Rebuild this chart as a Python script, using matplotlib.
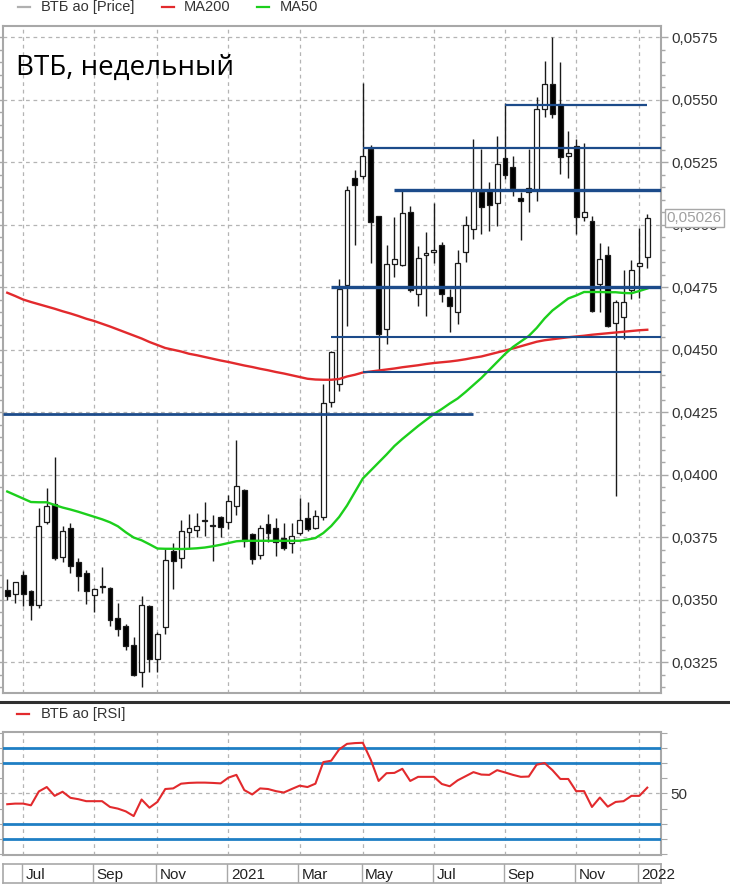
import matplotlib
matplotlib.use("Agg")
import matplotlib.pyplot as plt
import pandas as pd
from matplotlib.lines import Line2D
from matplotlib.ticker import MultipleLocator, FuncFormatter, FixedLocator
from matplotlib.transforms import blended_transform_factory

plt.rcParams['font.family'] = ['Liberation Sans', 'DejaVu Sans']

# ---------------- data ----------------
weeks = pd.date_range('2020-06-15', periods=82, freq='W-MON')

open_ = [0.03539, 0.03523, 0.03599, 0.03535, 0.03480, 0.03810, 0.03883, 0.03670, 0.03786, 0.03650,
         0.03607, 0.03520, 0.03555, 0.03546, 0.03426, 0.03394, 0.03319, 0.03212, 0.03476, 0.03263,
         0.03390, 0.03696, 0.03666, 0.03772, 0.03780, 0.03815, 0.03798, 0.03830, 0.03810, 0.03874,
         0.03940, 0.03762, 0.03680, 0.03803, 0.03786, 0.03747, 0.03727, 0.03766, 0.03827, 0.03787,
         0.03832, 0.04290, 0.04363, 0.04759, 0.05186, 0.05194, 0.05303, 0.05036, 0.04583, 0.04843,
         0.04840, 0.05050, 0.04723, 0.04880, 0.04890, 0.04919, 0.04710, 0.04652, 0.04892, 0.04983,
         0.05132, 0.05134, 0.05086, 0.05267, 0.05230, 0.05106, 0.05132, 0.05140, 0.05463, 0.05563,
         0.05483, 0.05276, 0.05316, 0.05030, 0.05016, 0.04763, 0.04880, 0.04607, 0.04630, 0.04740,
         0.04834, 0.04870]
high = [0.03583, 0.03572, 0.03616, 0.03540, 0.03868, 0.03946, 0.04070, 0.03796, 0.03807, 0.03666,
        0.03619, 0.03546, 0.03630, 0.03550, 0.03486, 0.03403, 0.03350, 0.03516, 0.03479, 0.03371,
        0.03703, 0.03727, 0.03819, 0.03843, 0.03846, 0.03892, 0.03839, 0.03834, 0.03920, 0.04140,
        0.03943, 0.03767, 0.03799, 0.03843, 0.03826, 0.03807, 0.03806, 0.03907, 0.03890, 0.03859,
        0.04363, 0.04496, 0.04783, 0.05154, 0.05220, 0.05567, 0.05319, 0.05036, 0.04919, 0.05030,
        0.05143, 0.05076, 0.04916, 0.04972, 0.05087, 0.04932, 0.04743, 0.04900, 0.05036, 0.05343,
        0.05303, 0.05172, 0.05354, 0.05487, 0.05276, 0.05130, 0.05303, 0.05510, 0.05654, 0.05752,
        0.05650, 0.05376, 0.05343, 0.05326, 0.05036, 0.04927, 0.04916, 0.04700, 0.04819, 0.04859,
        0.04986, 0.05043]
low = [0.03500, 0.03487, 0.03476, 0.03420, 0.03467, 0.03803, 0.03660, 0.03652, 0.03607, 0.03536,
       0.03483, 0.03452, 0.03527, 0.03394, 0.03354, 0.03300, 0.03197, 0.03150, 0.03210, 0.03210,
       0.03363, 0.03543, 0.03627, 0.03709, 0.03750, 0.03754, 0.03656, 0.03750, 0.03783, 0.03840,
       0.03710, 0.03643, 0.03663, 0.03732, 0.03674, 0.03699, 0.03687, 0.03759, 0.03776, 0.03783,
       0.03820, 0.04270, 0.04336, 0.04596, 0.04920, 0.05183, 0.04847, 0.04416, 0.04523, 0.04790,
       0.04834, 0.04730, 0.04676, 0.04636, 0.04847, 0.04690, 0.04572, 0.04603, 0.04850, 0.04943,
       0.04963, 0.04974, 0.04994, 0.05183, 0.05116, 0.04939, 0.05050, 0.05096, 0.05430, 0.05426,
       0.05203, 0.05186, 0.04963, 0.05016, 0.04652, 0.04650, 0.04590, 0.03915, 0.04543, 0.04703,
       0.04706, 0.04826]
close = [0.03516, 0.03570, 0.03522, 0.03480, 0.03796, 0.03876, 0.03667, 0.03774, 0.03636, 0.03594,
         0.03534, 0.03543, 0.03553, 0.03420, 0.03383, 0.03316, 0.03199, 0.03479, 0.03263, 0.03362,
         0.03659, 0.03654, 0.03776, 0.03786, 0.03795, 0.03818, 0.03795, 0.03790, 0.03894, 0.03956,
         0.03736, 0.03663, 0.03788, 0.03767, 0.03730, 0.03708, 0.03756, 0.03819, 0.03783, 0.03836,
         0.04287, 0.04490, 0.04743, 0.05139, 0.05159, 0.05274, 0.05010, 0.04563, 0.04843, 0.04863,
         0.05046, 0.04740, 0.04866, 0.04886, 0.04900, 0.04723, 0.04676, 0.04847, 0.04999, 0.05136,
         0.05070, 0.05080, 0.05243, 0.05200, 0.05147, 0.05095, 0.05148, 0.05463, 0.05563, 0.05443,
         0.05272, 0.05287, 0.05030, 0.05052, 0.04656, 0.04863, 0.04594, 0.04692, 0.04690, 0.04820,
         0.04846, 0.05026]
ma200 = [0.04728, 0.04715, 0.04701, 0.04691, 0.04682, 0.04673, 0.04664, 0.04654, 0.04645, 0.04635,
         0.04624, 0.04615, 0.04604, 0.04593, 0.04581, 0.04569, 0.04557, 0.04545, 0.04531, 0.04519,
         0.04507, 0.04500, 0.04493, 0.04484, 0.04478, 0.04471, 0.04464, 0.04457, 0.04451, 0.04444,
         0.04437, 0.04431, 0.04424, 0.04418, 0.04411, 0.04405, 0.04398, 0.04391, 0.04384, 0.04381,
         0.04380, 0.04380, 0.04383, 0.04393, 0.04400, 0.04409, 0.04413, 0.04417, 0.04421, 0.04425,
         0.04430, 0.04434, 0.04438, 0.04443, 0.04447, 0.04450, 0.04453, 0.04457, 0.04462, 0.04468,
         0.04473, 0.04481, 0.04489, 0.04497, 0.04505, 0.04514, 0.04523, 0.04532, 0.04538, 0.04542,
         0.04546, 0.04550, 0.04553, 0.04556, 0.04560, 0.04563, 0.04566, 0.04569, 0.04572, 0.04575,
         0.04578, 0.04580]
ma50 = [0.03933, 0.03919, 0.03905, 0.03891, 0.03890, 0.03890, 0.03879, 0.03869, 0.03861, 0.03852,
        0.03842, 0.03832, 0.03822, 0.03810, 0.03794, 0.03770, 0.03749, 0.03738, 0.03722, 0.03705,
        0.03704, 0.03704, 0.03703, 0.03704, 0.03706, 0.03709, 0.03714, 0.03720, 0.03727, 0.03734,
        0.03736, 0.03736, 0.03736, 0.03736, 0.03736, 0.03736, 0.03736, 0.03736, 0.03741, 0.03747,
        0.03767, 0.03795, 0.03831, 0.03877, 0.03931, 0.03985, 0.04017, 0.04049, 0.04081, 0.04115,
        0.04143, 0.04169, 0.04195, 0.04219, 0.04243, 0.04263, 0.04285, 0.04305, 0.04331, 0.04359,
        0.04387, 0.04419, 0.04451, 0.04483, 0.04511, 0.04533, 0.04555, 0.04587, 0.04625, 0.04657,
        0.04681, 0.04705, 0.04717, 0.04731, 0.04731, 0.04731, 0.04730, 0.04730, 0.04727, 0.04726,
        0.04735, 0.04745]
rsi = [42.9, 43.3, 43.3, 42.2, 51.3, 54.2, 48.4, 51.1, 47.1, 46.2,
       44.9, 44.9, 44.9, 41.1, 40.0, 38.2, 35.1, 46.0, 40.6, 44.4,
       52.9, 53.3, 56.4, 56.9, 57.1, 57.1, 56.9, 56.6, 60.4, 62.2,
       52.2, 49.3, 53.3, 52.9, 51.5, 50.6, 52.9, 55.1, 54.2, 56.4,
       70.6, 71.5, 78.9, 82.6, 83.1, 83.3, 72.2, 58.2, 63.3, 63.5,
       66.2, 58.2, 60.9, 60.9, 60.9, 56.2, 54.7, 58.6, 61.3, 64.0,
       62.4, 62.2, 65.3, 63.8, 62.2, 60.9, 61.1, 68.9, 70.0, 65.3,
       59.5, 59.5, 51.5, 51.5, 41.1, 47.3, 41.3, 44.4, 44.9, 48.4,
       48.4, 53.8]

# support / resistance levels drawn by the analyst (price, first candle, last candle)
levels = [0.0548, 0.05305, 0.0514, 0.0475, 0.0455, 0.0441, 0.04245]
level_start = [63, 45, 49, 41, 41, 45, None]
level_end = [81, None, None, None, None, None, 59]
level_widths = [1.6, 1.6, 2.4, 2.4, 1.5, 1.5, 2.0]
rsi_levels = [80, 70, 30, 20]
title = 'ВТБ, недельный'

# ---------------- layout ----------------
W, H = 730, 884
fig = plt.figure(figsize=(W / 100, H / 100), dpi=100)


def rect(l, t, r, b):
    return [l / W, 1 - b / H, (r - l) / W, (b - t) / H]


XL, XR = -0.5, 82.7
n = len(close)
xs = list(range(n))

# month ticks: week containing the 1st of every second month
tick_pos, tick_lab = [], []
for i, d in enumerate(weeks):
    end = d + pd.Timedelta(days=6)
    first = end.replace(day=1)
    if first >= d and first.month % 2 == 1:
        tick_pos.append(i)
        tick_lab.append(str(first.year) if first.month == 1 else first.strftime('%b'))

GRID = dict(color='#b4b4b4', linestyle=(0, (3, 3)), linewidth=0.9)
SPINE = '#a8a8a8'

# ---------------- price panel ----------------
ax = fig.add_axes(rect(3.3, 25.7, 660.7, 693.3))
ax.set_xlim(XL, XR)
ax.set_ylim(0.03126, 0.05796)

for s in ax.spines.values():
    s.set_color(SPINE)
    s.set_linewidth(1.5)

ax.yaxis.set_major_locator(MultipleLocator(0.0025))
ax.yaxis.set_minor_locator(MultipleLocator(0.0005))
ax.yaxis.set_major_formatter(FuncFormatter(lambda v, p: f"{v:.4f}".replace('.', ',')))
ax.tick_params(axis='y', which='both', left=True, right=True, labelleft=False,
               labelright=True, direction='out', colors=SPINE, labelcolor='#333333',
               labelsize=11, pad=3)
ax.tick_params(axis='y', which='major', length=5, width=1)
ax.tick_params(axis='y', which='minor', length=3, width=1)
ax.xaxis.set_major_locator(FixedLocator(tick_pos))
ax.tick_params(axis='x', length=0, labelbottom=False)
ax.grid(True, which='major', **GRID)
ax.set_axisbelow(True)

# candles
for i in xs:
    o, h, l, c = open_[i], high[i], low[i], close[i]
    bull = c >= o
    ax.vlines(i, l, h, color='#1a1a1a', linewidth=1.0, zorder=3)
    bottom = min(o, c)
    height = max(abs(c - o), 0.00002)
    ax.bar(i, height, bottom=bottom, width=0.62,
           color='white' if bull else 'black', edgecolor='#1a1a1a',
           linewidth=0.9, zorder=4)

# moving averages
ax.plot(xs, ma200, color='#e22a2d', linewidth=1.7, zorder=5)
ax.plot(xs, ma50, color='#1ccf1c', linewidth=1.7, zorder=5)

# horizontal levels
for lv, s0, s1, lw in zip(levels, level_start, level_end, level_widths):
    x0 = XL if s0 is None else s0
    x1 = XR if s1 is None else s1
    ax.hlines(lv, x0, x1, color='#1c4b8a', linewidth=lw, zorder=6)

ax.text(0.019, 0.937, title, transform=ax.transAxes, fontsize=20,
        family=['Open Sans', 'DejaVu Sans'], color='black', va='center', ha='left', zorder=10)

# last price label (covers the 0,0500 tick label as in the original terminal chart)
tr = blended_transform_factory(ax.transAxes, ax.transData)
ax.text(1.0 + 6 / 657.4, close[-1], f"{close[-1]:.5f}".replace('.', ','), transform=tr,
        fontsize=11, color='#a0a0a0', va='center', ha='left', clip_on=False, zorder=20,
        bbox=dict(boxstyle='square,pad=0.12', fc='white', ec='#a8a8a8', lw=1))

# ---------------- legends ----------------
def legend_item(x_line, x_text, y, color, label):
    fig.add_artist(Line2D([x_line / W, (x_line + 12) / W], [1 - y / H, 1 - y / H],
                          color=color, linewidth=1.6))
    fig.text(x_text / W, 1 - y / H, label, fontsize=10.5, color='#333333',
             va='center', ha='left')


legend_item(18, 41, 7, '#b0b0b0', 'ВТБ ао [Price]')
legend_item(162, 184, 7, '#e22a2d', 'MA200')
legend_item(257, 280, 7, '#1ccf1c', 'MA50')

# panel separator
fig.add_artist(Line2D([0, 1], [1 - 702 / H, 1 - 702 / H], color='#303030', linewidth=2.2))

legend_item(17, 41, 714, '#e22a2d', 'ВТБ ао [RSI]')

# ---------------- RSI panel ----------------
ar = fig.add_axes(rect(3.3, 732.3, 660.7, 855))
ar.set_xlim(XL, XR)
ar.set_ylim(9.5, 90.2)
for s in ar.spines.values():
    s.set_color(SPINE)
    s.set_linewidth(1.5)
ar.yaxis.set_major_locator(FixedLocator(list(range(10, 91, 10))))
ar.yaxis.set_major_formatter(FuncFormatter(lambda v, p: '50' if abs(v - 50) < 1e-6 else ''))
ar.tick_params(axis='y', left=True, right=True, labelleft=False, labelright=True,
               direction='out', length=4, colors=SPINE, labelcolor='#333333',
               labelsize=11, pad=3)
ar.xaxis.set_major_locator(FixedLocator(tick_pos))
ar.tick_params(axis='x', length=0, labelbottom=False)
ar.grid(True, axis='x', **GRID)
ar.axhline(50, **GRID)
ar.set_axisbelow(True)
for lv in rsi_levels:
    ar.axhline(lv, color='#1f7fc4', linewidth=2.0, zorder=3)
ar.plot(xs, rsi, color='#e22a2d', linewidth=1.5, zorder=5)

# ---------------- time axis band ----------------
at = fig.add_axes(rect(3.3, 864.3, 660.7, 883.3))
at.set_xlim(XL, XR)
at.set_ylim(0, 1)
for s in at.spines.values():
    s.set_color(SPINE)
    s.set_linewidth(1.2)
at.set_yticks([])
at.set_xticks([])
for p, lab in zip(tick_pos, tick_lab):
    at.axvline(p - 0.15, color='#a8a8a8', linewidth=1.0)
    at.text(p + 0.3, 0.45, lab, fontsize=11, color='#222222', ha='left', va='center',
            clip_on=False)

fig.savefig('out.png', dpi=100)
